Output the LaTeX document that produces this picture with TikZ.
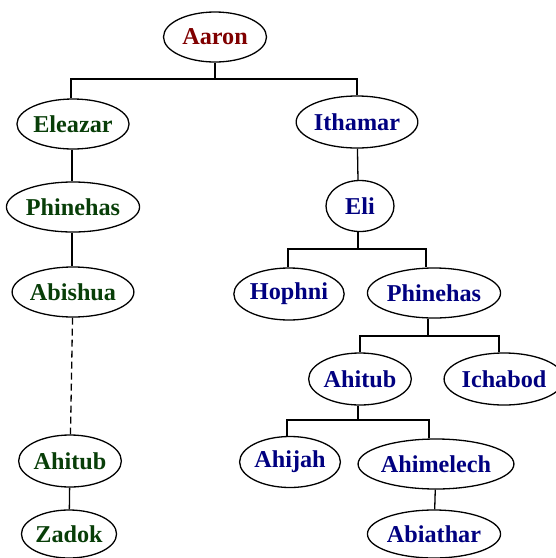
\documentclass[tikz,border=0pt]{standalone}
\usepackage{xcolor}
\usepackage{fontspec}
\setmainfont{Liberation Serif}
\usetikzlibrary{shapes.geometric,positioning}

\definecolor{aaronred}{RGB}{128,0,0}
\definecolor{eleazargreen}{RGB}{8,62,8}
\definecolor{ithamarblue}{RGB}{0,0,128}

\begin{document}
\begin{tikzpicture}[x=1pt, y=-1pt, line width=1.3pt,
    person/.style={draw, ellipse, inner sep=0pt, minimum height=50pt, font=\fontsize{24.2}{24.2}\selectfont\bfseries},
    root/.style={person, text=aaronred},
    eleazarline/.style={person, text=eleazargreen},
    ithamarline/.style={person, text=ithamarblue}]
    \useasboundingbox (0,0) rectangle (556,558);

    % Aaron and his two sons
    \node[root, minimum width=103pt] (aaron) at (215,37) {Aaron};
    \node[eleazarline, minimum width=103pt] (eleazar) at (73,124) {Eleazar};
    \node[ithamarline, minimum width=104pt, minimum height=52pt] (ithamar) at (357,122) {Ithamar};

    % line of Eleazar
    \node[eleazarline, minimum width=121pt] (phinehasL) at (73,207) {Phinehas};
    \node[eleazarline, minimum width=121pt] (abishua) at (73,292) {Abishua};
    \node[eleazarline, minimum width=87pt, minimum height=52pt] (ahitubL) at (70,461) {Ahitub};
    \node[eleazarline, minimum width=86pt, minimum height=48pt] (zadok) at (69,534) {Zadok};

    % line of Ithamar
    \node[ithamarline, minimum width=68pt, minimum height=51pt] (eli) at (360,206) {Eli};
    \node[ithamarline, minimum width=103pt, minimum height=52pt] (hophni) at (289,294) {Hophni};
    \node[ithamarline, minimum width=121pt] (phinehasR) at (434,293) {Phinehas};
    \node[ithamarline, minimum width=87pt, minimum height=52pt] (ahitubR) at (360,379) {Ahitub};
    \node[ithamarline, minimum width=102pt, minimum height=52pt] (ichabod) at (504,379) {Ichabod};
    \node[ithamarline, minimum width=86pt, minimum height=51pt] (ahijah) at (290,462) {Ahijah};
    \node[ithamarline, minimum width=138pt] (ahimelech) at (436,464) {Ahimelech};
    \node[ithamarline, minimum width=121pt, minimum height=48pt] (abiathar) at (434,534) {Abiathar};

    % junctions
    \coordinate (jaaron) at (215,79);
    \coordinate (jeli) at (358,249);
    \coordinate (jphinehas) at (428,336);
    \coordinate (jahitub) at (358,420);

    \draw (aaron.south) -- (jaaron) -| ([xshift=-2pt]eleazar.north);
    \draw (jaaron) -| (ithamar.north);
    \draw ([xshift=-1pt]eleazar.south) -- ([xshift=-1pt]phinehasL.north);
    \draw ([xshift=-1pt]phinehasL.south) -- ([xshift=-1pt]abishua.north);
    \draw[dash pattern=on 7pt off 4pt] (abishua) -- (ahitubL);
    \draw (ahitubL) -- (zadok);

    \draw (ithamar) -- ([xshift=-2pt]eli.north);
    \draw ([xshift=-2pt]eli.south) -- (jeli) -| ([xshift=-1pt]hophni.north);
    \draw (jeli) -| ([xshift=-8pt]phinehasR.north);
    \draw ([xshift=-6pt]phinehasR.south) -- (jphinehas) -| (ahitubR.north);
    \draw (jphinehas) -| ([xshift=-5pt]ichabod.north);
    \draw ([xshift=-2pt]ahitubR.south) -- (jahitub) -| ([xshift=-3pt]ahijah.north);
    \draw (jahitub) -| ([xshift=-7pt]ahimelech.north);
    \draw (ahimelech) -- (abiathar);
\end{tikzpicture}
\end{document}
